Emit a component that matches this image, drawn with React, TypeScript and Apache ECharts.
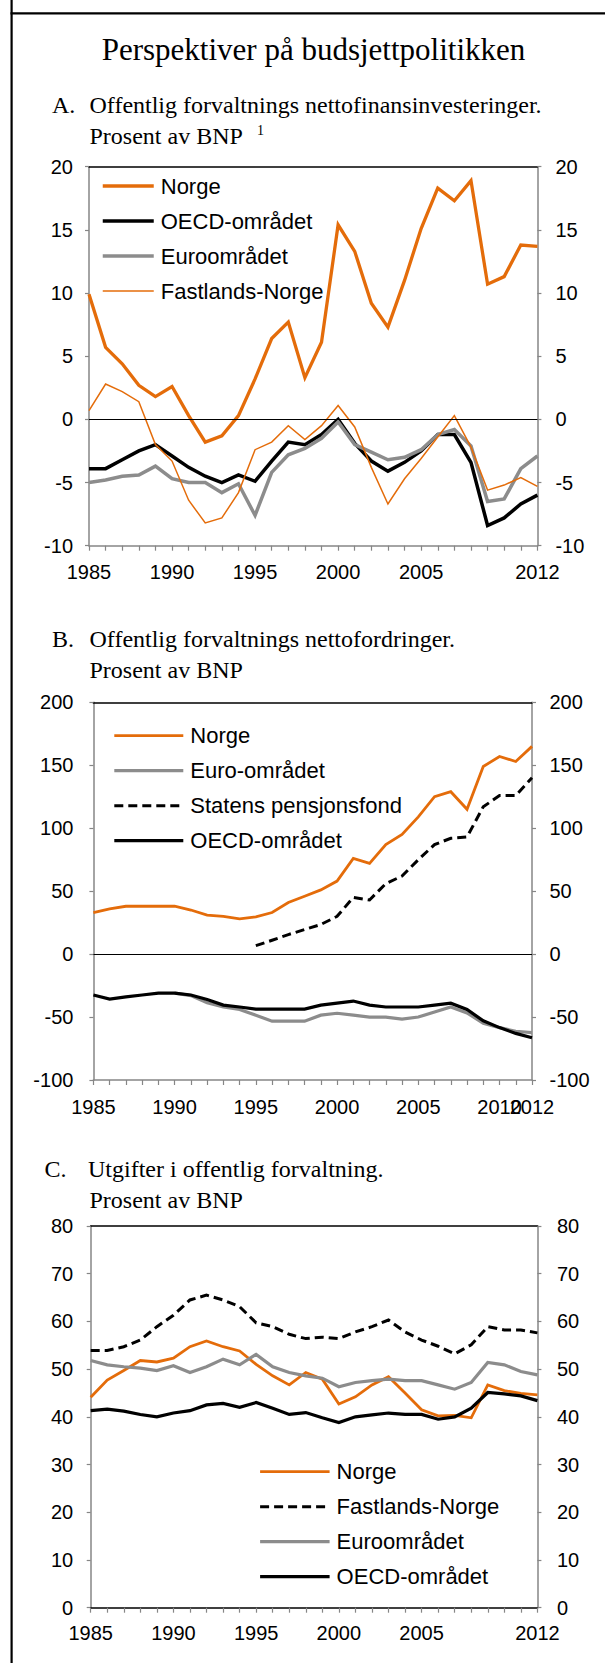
import React, { useEffect, useRef } from 'react';
import * as echarts from 'echarts';

// ---------- Data ----------
const years = ['1985','1986','1987','1988','1989','1990','1991','1992','1993','1994','1995','1996','1997','1998','1999','2000','2001','2002','2003','2004','2005','2006','2007','2008','2009','2010','2011','2012'];

const labelsAC = ['1985','1990','1995','2000','2005','2012'];
const labelsB = ['1985','1990','1995','2000','2005','2012'];
const labelsBExtra = ['2010'];

// Panel A: Offentlig forvaltnings nettofinansinvesteringer
const aNorge = [9.9,5.7,4.4,2.7,1.8,2.6,0.3,-1.8,-1.3,0.3,3.2,6.4,7.7,3.3,6.1,15.4,13.3,9.2,7.3,11.0,15.1,18.3,17.3,18.9,10.7,11.3,13.8,13.7];
const aOECD = [-3.9,-3.9,-3.2,-2.5,-2.0,-2.9,-3.8,-4.5,-5.0,-4.4,-4.9,-3.3,-1.8,-2.0,-1.2,0.0,-1.9,-3.3,-4.1,-3.4,-2.5,-1.2,-1.2,-3.4,-8.4,-7.8,-6.7,-6.0];
const aEuro = [-5.0,-4.8,-4.5,-4.4,-3.7,-4.7,-5.0,-5.0,-5.8,-5.1,-7.6,-4.2,-2.8,-2.3,-1.5,-0.2,-2.0,-2.6,-3.2,-3.0,-2.4,-1.2,-0.8,-2.1,-6.5,-6.3,-3.9,-2.9];
const aFastland = [0.7,2.8,2.2,1.4,-2.0,-3.3,-6.4,-8.2,-7.8,-5.8,-2.4,-1.8,-0.5,-1.6,-0.5,1.1,-0.6,-3.8,-6.7,-4.7,-3.1,-1.4,0.3,-2.2,-5.6,-5.2,-4.6,-5.3];

// Panel B: Offentlig forvaltnings nettofordringer
const bNorge = [33,36,38,38,38,38,35,31,30,28,29.6,33,41,46,51,58,76,72,87,95,109,125,129,115,149,157,153,165];
const bEuro = [null,null,null,null,null,-31,-33,-38.7,-42,-44,-48.5,-53.3,-53.3,-53.3,-48.5,-47,-48.5,-50,-50,-51.7,-50,-46,-42,-46.7,-55,-58.4,-61.3,-62.4];
const bSPF = [null,null,null,null,null,null,null,null,null,null,6.7,11,15.5,19.5,23.5,30,45,43,56,62,75,87,92,93,117,126,126,140];
const bOECD = [-32.5,-35.7,-34,-32.5,-31,-31,-32.5,-36,-40.5,-42,-43.7,-43.7,-43.7,-43.7,-40.5,-39,-37.3,-40.5,-42,-42,-42,-40.5,-39,-44,-53,-58.4,-63,-66.4];

// Panel C: Utgifter i offentlig forvaltning
const cNorge = [44.1,47.7,49.7,51.8,51.5,52.3,54.7,55.9,54.7,53.8,51.0,48.6,46.7,49.3,47.9,42.7,44.2,46.7,48.4,45.0,41.5,40.2,40.3,39.8,46.7,45.5,44.9,44.6];
const cFastland = [53.9,53.9,54.7,56.1,58.9,61.3,64.5,65.5,64.5,63.1,59.7,58.9,57.3,56.4,56.7,56.4,57.8,58.9,60.3,57.8,56.1,54.8,53.2,55.1,58.9,58.2,58.2,57.6];
const cEuro = [51.8,50.9,50.5,50.2,49.7,50.7,49.3,50.5,52.1,50.9,53.1,50.5,49.3,48.6,48.1,46.3,47.2,47.6,47.9,47.6,47.6,46.7,45.8,47.2,51.4,50.9,49.5,48.8];
const cOECD = [41.3,41.6,41.2,40.5,40.0,40.8,41.3,42.5,42.8,42.0,43.0,41.8,40.5,40.9,39.8,38.8,40.0,40.4,40.8,40.5,40.5,39.5,40.0,41.8,45.1,44.8,44.4,43.4];

// ---------- Styles ----------
const SANS = '"Liberation Sans", Arial, sans-serif';
const SERIF = '"Liberation Serif", "Times New Roman", serif';
const ORANGE = '#E46C0A';
const GRAY = '#8C8C8C';
const AXIS_GRAY = '#868686';

type PanelCfg = {
  grid: { left: number; top: number; width: number; height: number };
  min: number; max: number; interval: number;
  xLabels: string[];
  extraLabels: string[];
  marginL: number; marginR: number; marginX: number;
  bottomBlack: boolean;
};

const panels: PanelCfg[] = [
  { grid: { left: 89, top: 166.7, width: 448.4, height: 379 }, min: -10, max: 20, interval: 5, xLabels: labelsAC, extraLabels: [], marginL: 16, marginR: 18, marginX: 16, bottomBlack: false },
  { grid: { left: 93.4, top: 702.3, width: 438.6, height: 377.7 }, min: -100, max: 200, interval: 50, xLabels: labelsB, extraLabels: labelsBExtra, marginL: 20, marginR: 17.5, marginX: 16.5, bottomBlack: false },
  { grid: { left: 90.7, top: 1226, width: 446.7, height: 381.7 }, min: 0, max: 80, interval: 10, xLabels: labelsAC, extraLabels: [], marginL: 17.5, marginR: 19.5, marginX: 15.5, bottomBlack: true },
];

function buildOption() {
  const grids: any[] = [];
  const xAxes: any[] = [];
  const yAxes: any[] = [];
  const xIndexOf: number[] = [];
  const yIndexOf: number[] = [];
  panels.forEach((p) => {
    grids.push({ ...p.grid, containLabel: false, show: false });
    const gi = grids.length - 1;
    if (p.extraLabels.length) {
      // extra label-only axis (drawn underneath the main labels)
      xAxes.push({
        type: 'category', gridIndex: gi, position: 'bottom', offset: 0, data: years, boundaryGap: false, z: 0,
        axisLine: { show: false, onZero: false }, axisTick: { show: false },
        axisLabel: {
          interval: (_i: number, v: string) => p.extraLabels.indexOf(v) >= 0,
          margin: p.marginX, fontSize: 20, fontFamily: SANS, color: '#000',
          showMinLabel: false, showMaxLabel: false, hideOverlap: false,
        },
        splitLine: { show: false },
      });
    }
    xIndexOf.push(xAxes.length);
    xAxes.push({
      type: 'category', gridIndex: gi, position: 'bottom', offset: 0, data: years, boundaryGap: false, z: 2,
      axisLine: { onZero: false, lineStyle: { color: p.bottomBlack ? '#000' : AXIS_GRAY, width: 1.5 } },
      axisTick: { show: true, interval: 0, inside: false, length: 5, lineStyle: { color: AXIS_GRAY, width: 1.2 } },
      axisLabel: {
        interval: (_i: number, v: string) => p.xLabels.indexOf(v) >= 0,
        margin: p.marginX, fontSize: 20, fontFamily: SANS, color: '#000',
        showMinLabel: true, showMaxLabel: true, hideOverlap: false,
      },
      splitLine: { show: false },
    });
    xAxes.push({
      type: 'category', gridIndex: gi, position: 'top', data: years, boundaryGap: false,
      axisLine: { onZero: false, lineStyle: { color: '#000', width: 1.5 } },
      axisTick: { show: false }, axisLabel: { show: false }, splitLine: { show: false },
    });
    const yBase = {
      type: 'value', gridIndex: gi, min: p.min, max: p.max, interval: p.interval,
      axisTick: { show: true, inside: false, length: 4, lineStyle: { color: AXIS_GRAY, width: 1.2 } },
      splitLine: { show: false },
    };
    yIndexOf.push(yAxes.length);
    yAxes.push({
      ...yBase, position: 'left',
      axisLine: { show: true, onZero: false, lineStyle: { color: AXIS_GRAY, width: 1.5 } },
      axisLabel: { margin: p.marginL, fontSize: 20, fontFamily: SANS, color: '#000' },
    });
    yAxes.push({
      ...yBase, position: 'right',
      axisLine: { show: true, onZero: false, lineStyle: { color: AXIS_GRAY, width: 1.5 } },
      axisLabel: { margin: p.marginR, fontSize: 20, fontFamily: SANS, color: '#000' },
    });
  });

  const line = (name: string, panel: number, data: (number | null)[], color: string, width: number, dash?: number[], zero?: boolean) => {
    const s: any = {
      type: 'line', name, xAxisIndex: xIndexOf[panel], yAxisIndex: yIndexOf[panel], data,
      symbol: 'none', showSymbol: false, silent: true, connectNulls: false,
      lineStyle: { color, width, type: dash ? dash : 'solid', cap: 'butt', join: 'miter' },
      itemStyle: { color },
      emphasis: { disabled: true },
    };
    if (zero) {
      s.markLine = {
        silent: true, symbol: 'none', label: { show: false },
        lineStyle: { color: '#000', width: 1, type: 'solid' },
        emphasis: { disabled: true },
        data: [{ yAxis: 0 }],
      };
    }
    return s;
  };

  const series = [
    line('A|Norge', 0, aNorge, ORANGE, 3.3, undefined, true),
    line('A|OECD-området', 0, aOECD, '#000', 3.5),
    line('A|Euroområdet', 0, aEuro, GRAY, 3.5),
    line('A|Fastlands-Norge', 0, aFastland, ORANGE, 1.5),
    line('B|Norge', 1, bNorge, ORANGE, 2.8, undefined, true),
    line('B|Euro-området', 1, bEuro, GRAY, 3.2),
    line('B|Statens pensjonsfond', 1, bSPF, '#000', 3, [9, 5]),
    line('B|OECD-området', 1, bOECD, '#000', 3.2),
    line('C|Norge', 2, cNorge, ORANGE, 2.8),
    line('C|Fastlands-Norge', 2, cFastland, '#000', 3, [9, 5]),
    line('C|Euroområdet', 2, cEuro, GRAY, 3.2),
    line('C|OECD-området', 2, cOECD, '#000', 3.2),
  ];

  const legend = (prefix: string, names: string[], left: number, top: number, itemWidth: number) => ({
    orient: 'vertical', left, top, padding: 0, itemWidth, itemHeight: 14, itemGap: 13,
    selectedMode: false,
    data: names.map((n) => prefix + '|' + n),
    formatter: (n: string) => n.split('|')[1],
    textStyle: { fontSize: 22, fontFamily: SANS, color: '#000', lineHeight: 22, padding: [0, 0, 0, 2] },
    lineStyle: { width: 'inherit' },
    itemStyle: { color: 'rgba(0,0,0,0)', borderColor: 'rgba(0,0,0,0)', borderWidth: 0, opacity: 0 },
  });

  const legends = [
    legend('A', ['Norge', 'OECD-området', 'Euroområdet', 'Fastlands-Norge'], 101, 175, 51),
    legend('B', ['Norge', 'Euro-området', 'Statens pensjonsfond', 'OECD-området'], 112.7, 724.7, 69),
    legend('C', ['Norge', 'Fastlands-Norge', 'Euroområdet', 'OECD-området'], 258.5, 1460.7, 69.5),
  ];

  const txt = (text: string, x: number, y: number, size: number, align = 'left') => ({
    type: 'text', x, y, silent: true,
    style: { text, fontSize: size, fontFamily: SERIF, fill: '#000', align, verticalAlign: 'middle' },
  });

  const graphic = [
    { type: 'line', silent: true, shape: { x1: 11.6, y1: 0, x2: 11.6, y2: 1663 }, style: { stroke: '#000', lineWidth: 2.2 } },
    { type: 'line', silent: true, shape: { x1: 10.5, y1: 13.3, x2: 605, y2: 13.3 }, style: { stroke: '#000', lineWidth: 2.2 } },
    txt('Perspektiver på budsjettpolitikken', 313.5, 49.8, 31, 'center'),
    txt('A.', 52, 104.6, 24),
    txt('Offentlig forvaltnings nettofinansinvesteringer.', 89.5, 104.6, 24),
    txt('Prosent av BNP', 89.5, 136, 24),
    txt('1', 257, 130.5, 14),
    txt('B.', 52, 638.6, 24),
    txt('Offentlig forvaltnings nettofordringer.', 89.5, 638.6, 24),
    txt('Prosent av BNP', 89.5, 670.3, 24),
    txt('C.', 44.4, 1168.6, 24),
    txt('Utgifter i offentlig forvaltning.', 88, 1168.6, 24),
    txt('Prosent av BNP', 89.5, 1200, 24),
  ];

  return {
    animation: false,
    backgroundColor: '#fff',
    grid: grids,
    xAxis: xAxes,
    yAxis: yAxes,
    legend: legends,
    series,
    graphic,
  };
}

export default function App() {
  const ref = useRef<HTMLDivElement>(null);
  useEffect(() => {
    if (!ref.current) return;
    const chart = echarts.init(ref.current, undefined, { renderer: 'svg' });
    chart.setOption(buildOption() as any);
    return () => chart.dispose();
  }, []);
  return (
    <div
      ref={ref}
      style={{ position: 'absolute', left: 0, top: 0, width: 605, height: 1663, background: '#fff' }}
    />
  );
}
